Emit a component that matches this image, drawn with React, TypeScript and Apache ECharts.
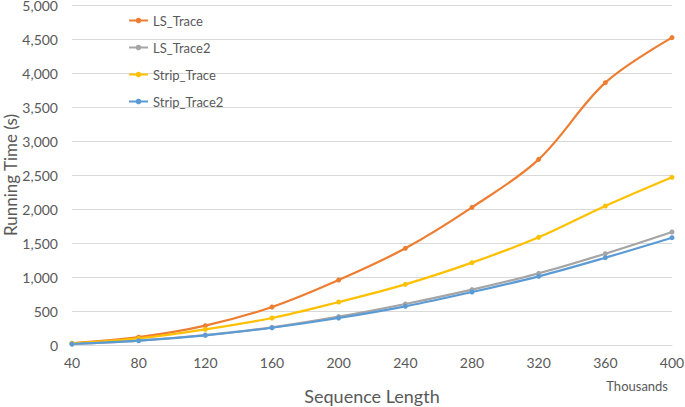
import React, { useEffect, useRef } from "react";
import * as echarts from "echarts";

const seqLengths = [40, 80, 120, 160, 200, 240, 280, 320, 360, 400];
const lsTrace = [25, 115, 284, 559, 956, 1422, 2025, 2730, 3858, 4520];
const lsTrace2 = [15, 65, 147, 260, 417, 603, 814, 1054, 1343, 1662];
const stripTrace = [25, 98, 230, 397, 632, 892, 1211, 1583, 2044, 2466];
const stripTrace2 = [15, 63, 142, 254, 397, 569, 779, 1010, 1284, 1578];
const yTicks = [0, 500, 1000, 1500, 2000, 2500, 3000, 3500, 4000, 4500, 5000];

const seriesDefs = [
  { name: "LS_Trace", data: lsTrace, color: "#ED7D31" },
  { name: "LS_Trace2", data: lsTrace2, color: "#A5A5A5" },
  { name: "Strip_Trace", data: stripTrace, color: "#FFC000" },
  { name: "Strip_Trace2", data: stripTrace2, color: "#5B9BD5" },
];

const FONT = "Lato, 'Open Sans', sans-serif";

export default function App() {
  const ref = useRef<HTMLDivElement>(null);
  useEffect(() => {
    const chart = echarts.init(ref.current!, null, { renderer: "svg" });
    chart.setOption({
      animation: false,
      textStyle: { fontFamily: FONT },
      grid: { left: 72, right: 13, top: 5, bottom: 62, containLabel: false, outerBoundsMode: "none" },
      legend: {
        orient: "vertical",
        left: 128,
        top: 14,
        padding: 0,
        itemGap: 14,
        itemWidth: 19,
        itemHeight: 7,
        textStyle: { color: "#595959", fontSize: 13, fontFamily: FONT },
        data: seriesDefs.map((s) => s.name),
      },
      xAxis: {
        type: "value",
        min: 40,
        max: 400,
        interval: 40,
        name: "Sequence Length",
        nameLocation: "middle",
        nameGap: 42,
        nameMoveOverlap: false,
        nameTextStyle: { color: "#595959", fontSize: 18, fontFamily: FONT },
        axisLine: { show: true, lineStyle: { color: "#D9D9D9", width: 1 } },
        axisTick: { show: false },
        axisLabel: { color: "#595959", fontSize: 14, margin: 10, fontFamily: FONT },
        splitLine: { show: false },
      },
      yAxis: {
        type: "value",
        min: yTicks[0],
        max: yTicks[yTicks.length - 1],
        interval: 500,
        name: "Running Time (s)",
        nameLocation: "middle",
        nameGap: 53,
        nameMoveOverlap: false,
        nameTextStyle: { color: "#595959", fontSize: 17, fontFamily: FONT },
        axisLine: { show: false },
        axisTick: { show: false },
        axisLabel: {
          color: "#595959",
          fontSize: 14,
          margin: 14,
          fontFamily: FONT,
          formatter: (v: number) => v.toLocaleString("en-US"),
        },
        splitLine: { lineStyle: { color: "#D9D9D9", width: 1 } },
      },
      graphic: [
        {
          type: "text",
          right: 17,
          top: 379,
          style: { text: "Thousands", fill: "#595959", fontSize: 13, fontFamily: FONT },
        },
      ],
      series: seriesDefs.map((s) => ({
        name: s.name,
        type: "line",
        smooth: 0.35,
        symbol: "circle",
        symbolSize: 5,
        showSymbol: true,
        color: s.color,
        lineStyle: { width: 2.2, color: s.color },
        itemStyle: { color: s.color },
        data: s.data.map((v, i) => [seqLengths[i], v]),
      })),
    });
    return () => chart.dispose();
  }, []);
  return <div ref={ref} style={{ width: 685, height: 407, position: "absolute", left: 0, top: 0 }} />;
}
